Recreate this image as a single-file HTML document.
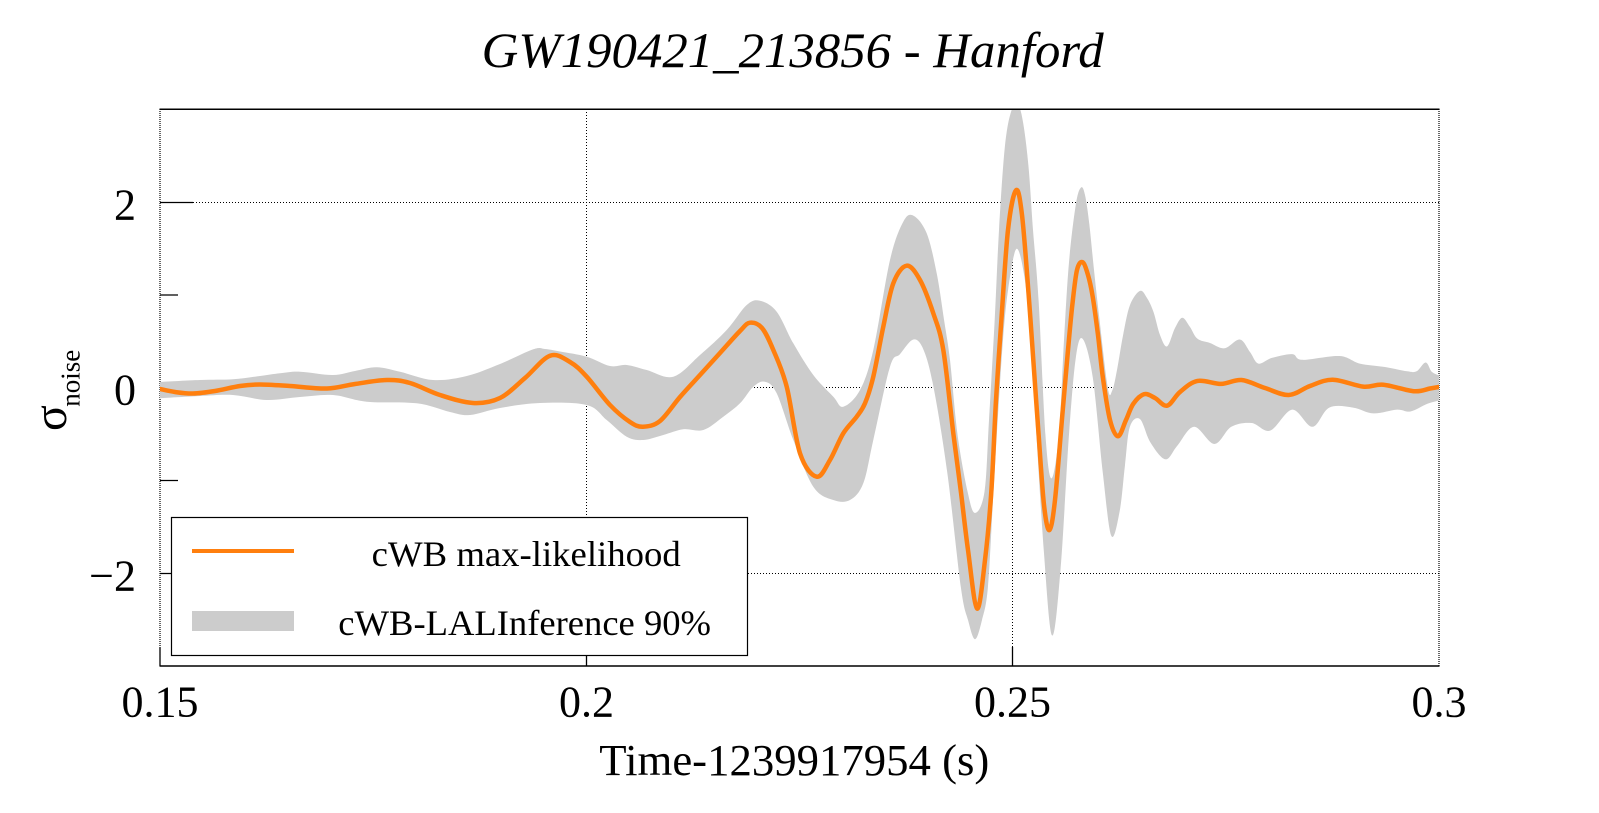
<!DOCTYPE html>
<html>
<head>
<meta charset="utf-8">
<style>
html,body{margin:0;padding:0;background:#fff;}
svg{display:block;}
text{font-family:"Liberation Serif","Times New Roman",serif;fill:#000;}
</style>
</head>
<body>
<svg id="c" width="1599" height="813" viewBox="0 0 1599 813" xmlns="http://www.w3.org/2000/svg">
<defs>
<clipPath id="pc"><rect x="160" y="109" width="1279" height="557"/></clipPath>
</defs>
<rect x="0" y="0" width="1599" height="813" fill="#fff"/>

<!-- grid -->
<g stroke="#000" stroke-width="1" stroke-dasharray="1 2" fill="none">
<line x1="160" y1="202.5" x2="1439" y2="202.5"/>
<line x1="160" y1="387.5" x2="1439" y2="387.5"/>
<line x1="160" y1="573.5" x2="1439" y2="573.5"/>
<line x1="586.5" y1="109" x2="586.5" y2="666"/>
<line x1="1012.5" y1="109" x2="1012.5" y2="666"/>
</g>
<!-- left / right borders (dotted) -->
<g stroke="#000" stroke-width="1.2" stroke-dasharray="1 1" fill="none">
<line x1="160" y1="109" x2="160" y2="647"/>
<line x1="1439" y1="109" x2="1439" y2="666"/>
</g>

<!-- ticks -->
<g stroke="#000" stroke-width="1.3" fill="none">
<line x1="160" y1="202.5" x2="193" y2="202.5"/>
<line x1="160" y1="387.5" x2="193" y2="387.5"/>
<line x1="160" y1="573.5" x2="193" y2="573.5"/>
<line x1="160" y1="295" x2="178" y2="295"/>
<line x1="160" y1="480.5" x2="178" y2="480.5"/>
<line x1="160" y1="647" x2="160" y2="666"/>
<line x1="586.5" y1="647" x2="586.5" y2="666"/>
<line x1="1012.5" y1="647" x2="1012.5" y2="666"/>
</g>

<g clip-path="url(#pc)">
<path id="band" d="" fill="#cccccc" stroke="none"/>
<path id="line" d="" fill="none" stroke="#ff7f0e" stroke-width="4.5" stroke-linejoin="round" stroke-linecap="round"/>
</g>

<!-- frame top/bottom -->
<g stroke="#000" stroke-width="1.5" fill="none">
<line x1="159.5" y1="109.3" x2="1439.5" y2="109.3"/>
<line x1="159.5" y1="666" x2="1439.5" y2="666"/>
</g>

<!-- legend -->
<rect x="171.5" y="517.5" width="576" height="138" fill="#fff" stroke="#000" stroke-width="1.2"/>
<line x1="192" y1="551" x2="294" y2="551" stroke="#ff7f0e" stroke-width="4"/>
<rect x="192" y="611" width="102" height="20" fill="#cccccc"/>
<text x="371.7" y="566" font-size="36" textLength="309" lengthAdjust="spacingAndGlyphs">cWB max-likelihood</text>
<text x="338.3" y="635" font-size="36" textLength="372.7" lengthAdjust="spacingAndGlyphs">cWB-LALInference 90%</text>

<!-- title -->
<text x="481.7" y="67" font-size="50" font-style="italic" textLength="622" lengthAdjust="spacingAndGlyphs">GW190421_213856 - Hanford</text>

<!-- y tick labels -->
<text x="136" y="219.5" font-size="44" text-anchor="end">2</text>
<text x="136" y="404.5" font-size="44" text-anchor="end">0</text>
<text x="136" y="590.5" font-size="44" text-anchor="end">−2</text>

<!-- x tick labels -->
<text x="160" y="716.7" font-size="44" text-anchor="middle">0.15</text>
<text x="586.5" y="716.7" font-size="44" text-anchor="middle">0.2</text>
<text x="1012.5" y="716.7" font-size="44" text-anchor="middle">0.25</text>
<text x="1439" y="716.7" font-size="44" text-anchor="middle">0.3</text>

<!-- x title -->
<text x="599.3" y="775" font-size="44" textLength="390" lengthAdjust="spacingAndGlyphs">Time-1239917954 (s)</text>

<!-- y title -->
<text transform="translate(66,431) rotate(-90)" font-size="48">σ</text>
<text transform="translate(79.3,406.7) rotate(-90)" font-size="27">noise</text>
</svg>

<script>
(function(){
var line=[[160,389],[175,392],[193,393.5],[215,391],[240,386],[260,384.5],[290,386],[327,388.5],[355,384],[387,380],[410,383],[440,395],[473,403],[500,398],[525,378],[550,355.7],[570,362],[586.7,376.7],[610,405],[630,422],[643,426.7],[660,421],[680,397],[700,375],[720,353],[740,331],[750,322.7],[762,328],[773.3,350],[786.7,386.7],[800,453.3],[816.7,476.7],[830,460],[843.3,433.3],[856.7,416.7],[865,403.3],[873.3,376.7],[883.3,326.7],[893.3,283.3],[906.7,265.7],[920,280],[933.3,313.3],[943.3,350],[953.3,433.3],[960.9,491.8],[968,550],[977.1,608.6],[985,560],[991.3,491.8],[996,400],[1001.4,319.6],[1008,230],[1016,190.3],[1022,215],[1028.5,292.8],[1034,370],[1038.6,434.4],[1044,505],[1049.4,530.1],[1055,500],[1062.3,415.3],[1068,350],[1072.4,304.3],[1077,270],[1082.6,262.2],[1088,275],[1092.7,296.7],[1098,335],[1102.8,377],[1110,420],[1118,436.3],[1126,420],[1133.3,403.8],[1144.1,394.2],[1155,398],[1167.1,405.7],[1180,392],[1197.5,380.9],[1221.2,383.9],[1241.5,380],[1265,388],[1288.8,395],[1310,386],[1332.7,379.7],[1363.2,386.6],[1383.4,384.7],[1413.9,391.2],[1430,388.5],[1439,387]];
var up=[[158,382],[200,380],[233,379.3],[260,376],[280,373.3],[300,371.7],[333,375],[355,371],[376.7,367.3],[400,371.7],[433,380],[466.7,376],[500,364],[533.3,349.3],[545,349],[560,351.5],[586.7,356.7],[610,366],[626.7,365],[646.7,370],[673.3,376.7],[700,355],[726.7,330],[746.7,305],[760,300.7],[776.7,311.7],[793.3,343.3],[813.3,375],[833.3,396.7],[843.3,406.7],[860,390],[873.3,350],[890,260],[903.3,221.7],[913.5,215.7],[926.7,233.3],[936.7,273.3],[944,319.6],[950,360],[957.5,434.4],[967.6,491.8],[975,512.9],[984.5,491.8],[989,420],[994.7,319.6],[999,230],[1004.8,147.4],[1011,112],[1017.6,104],[1023,122],[1028.5,166.5],[1033,230],[1038.6,300.5],[1045.4,434.4],[1051.5,478.4],[1058.9,434.4],[1064,340],[1069,262.2],[1075.8,204.8],[1080.9,187.6],[1085,195],[1089.3,224],[1094,270],[1099.5,319.6],[1107.9,388.5],[1112.3,390.4],[1117,370],[1123.1,335],[1130,305],[1140,290.9],[1147,298],[1153.5,312],[1160,335],[1167.1,346.4],[1175,328],[1182.3,317.7],[1190,327],[1197.5,338.8],[1210,343],[1224.5,348.3],[1239.8,339.5],[1250,352],[1258.4,363.6],[1271.9,357.9],[1292.2,354.1],[1302.3,359.8],[1339.5,356],[1359.8,363.6],[1385,367],[1407.1,371.3],[1416.6,371.3],[1425.7,362.5],[1432,372],[1441,376]];
var lo=[[158,398.3],[200,396],[233,395],[266.7,400],[300,397],[333,395],[366.7,401.7],[416.7,403.3],[450,412],[470,415],[500,408],[540,403],[586.7,405],[606.7,420],[626.7,436.7],[643.3,440],[663.3,435],[683.3,429.3],[703.3,430],[723.3,416.7],[740,403.3],[753.3,386.7],[765,381.7],[776.7,393.3],[793.3,440],[813.3,486.7],[833.3,500],[850,500],[863.3,483.3],[873.3,440],[890,366.7],[900,354.1],[913.5,339.5],[923.7,350.2],[933.8,388.5],[947.3,472.7],[960.9,587.5],[968,620],[975,639.2],[982,620],[987.9,587.5],[993,500],[998,415.3],[1003,340],[1008.2,289],[1016.6,248.8],[1025.1,281.4],[1030,340],[1035.2,415.3],[1043.7,549.2],[1052.1,635.4],[1060.6,568.4],[1069,434.4],[1075.8,357.9],[1082.6,338.8],[1092.7,377],[1102.8,472.7],[1111.3,535.8],[1119.7,511],[1125,465],[1129.9,426.8],[1140,419.1],[1150.2,442.1],[1165.4,459.3],[1177.2,445.9],[1194.1,426.8],[1214.4,444],[1231.3,426.8],[1251.6,423],[1270.2,430.6],[1292.2,409.6],[1312.4,426.8],[1329.3,407.6],[1353,407.6],[1373.3,413.4],[1397,409.6],[1410.5,411.5],[1427.4,403.8],[1441,400]];
function seg(p){
  var d='';
  for(var i=0;i<p.length-1;i++){
    var p0=p[i-1]||p[i],p1=p[i],p2=p[i+1],p3=p[i+2]||p2;
    var c1x=p1[0]+(p2[0]-p0[0])/6,c1y=p1[1]+(p2[1]-p0[1])/6;
    var c2x=p2[0]-(p3[0]-p1[0])/6,c2y=p2[1]-(p3[1]-p1[1])/6;
    d+=' C'+c1x.toFixed(2)+','+c1y.toFixed(2)+' '+c2x.toFixed(2)+','+c2y.toFixed(2)+' '+p2[0].toFixed(2)+','+p2[1].toFixed(2);
  }
  return d;
}
document.getElementById('line').setAttribute('d','M'+line[0][0]+','+line[0][1]+seg(line));
var lr=lo.slice().reverse();
document.getElementById('band').setAttribute('d','M'+up[0][0]+','+up[0][1]+seg(up)+' L'+lr[0][0]+','+lr[0][1]+seg(lr)+' Z');
})();
</script>
</body>
</html>
